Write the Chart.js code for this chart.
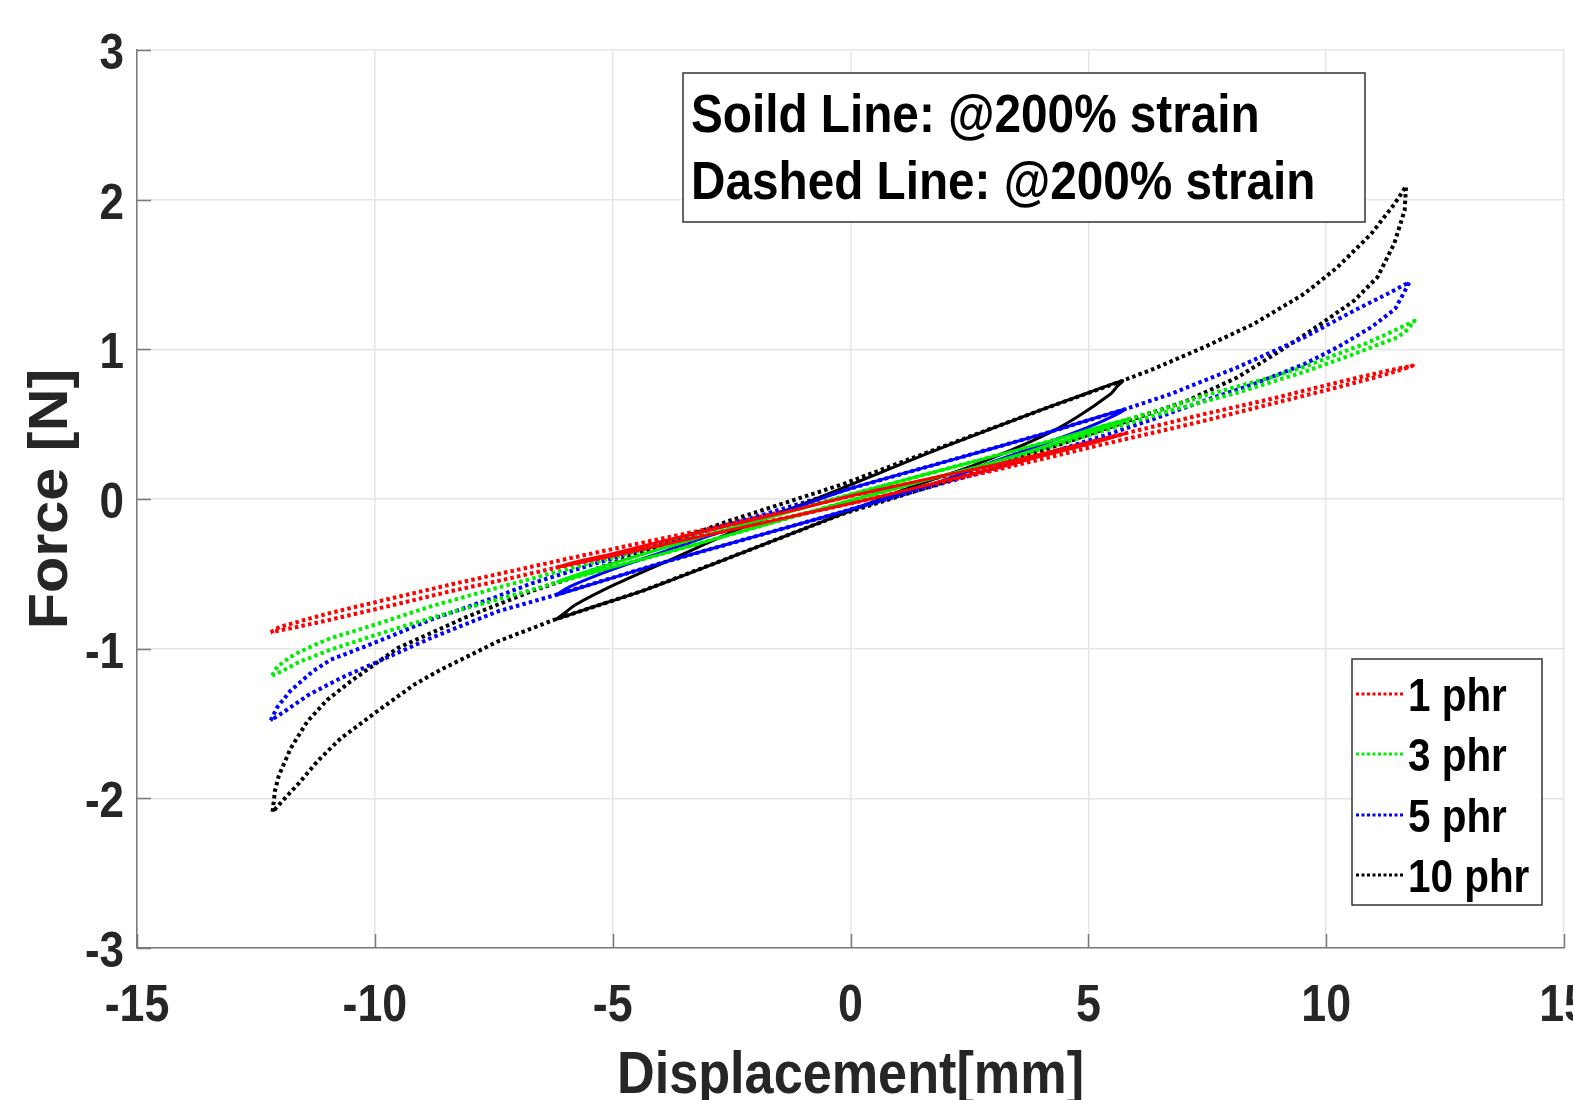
<!DOCTYPE html>
<html>
<head>
<meta charset="utf-8">
<script src="https://cdn.jsdelivr.net/npm/chart.js@4.4.1/dist/chart.umd.min.js"></script>
<style>
  html, body { margin: 0; padding: 0; background: #fff; }
  canvas { display: block; }
</style>
</head>
<body>
<canvas id="loopChart" width="1573" height="1100"></canvas>
<script>
// axis ticks
const xTicks = [-15, -10, -5, 0, 5, 10, 15];
const yTicks = [-3, -2, -1, 0, 1, 2, 3];

const seriesNames = ['1 phr', '3 phr', '5 phr', '10 phr'];
const seriesColors = ['#ff0000', '#00ee00', '#0000ff', '#000000'];

const noteLines = ['Soild Line: @200% strain', 'Dashed Line: @200% strain'];
const xTitle = 'Displacement[mm]';
const yTitle = 'Force [N]';

// 1 phr, large loop (dotted): upper branch left->right, then lower branch back
const disp1Dot = [-12.19, -12.0, -11.5, -10.93, -9.6, -8.4, -7.1, -5.86, -4.5, -3, -1.5, 0, 1.5, 3, 4.4, 5.8, 7.43, 8.83, 10.24, 11.29, 11.82,
  11.6, 11.0, 10.24, 8.83, 7.43, 6.4, 5.32, 4.2, 3, 1.5, 0, -1.5, -3, -4.6, -6.2, -7.3, -8.4, -9.7, -10.93, -11.7, -12.19];
const force1Dot = [-0.89, -0.855, -0.81, -0.761, -0.66, -0.571, -0.48, -0.393, -0.3, -0.2, -0.09, 0.02, 0.12, 0.22, 0.33, 0.44, 0.567, 0.668, 0.779, 0.857, 0.891,
  0.865, 0.81, 0.746, 0.634, 0.522, 0.445, 0.366, 0.28, 0.19, 0.08, -0.03, -0.135, -0.24, -0.35, -0.46, -0.54, -0.616, -0.715, -0.806, -0.86, -0.89];

// 1 phr, small loop (solid)
const disp1Solid = [-6.2, -5.9, -5.0, -4, -3, -2, -1, 0, 1, 2, 3, 4, 5, 5.8,
  5.5, 5, 4, 3, 2, 1, 0, -1, -2, -3, -4, -5, -6.2];
const force1Solid = [-0.46, -0.43, -0.365, -0.285, -0.21, -0.135, -0.06, 0.02, 0.09, 0.16, 0.225, 0.3, 0.375, 0.44,
  0.41, 0.365, 0.285, 0.2, 0.125, 0.045, -0.03, -0.1, -0.17, -0.24, -0.31, -0.38, -0.46];

// 3 phr
const disp3Dot = [-12.16, -12.05, -11.7, -11.3, -10.93, -10, -8.82, -7.5, -6.15, -4, -2, 0, 2, 4, 5.84, 6.6, 7.43, 8.83, 9.6, 10.24, 10.8, 11.29, 11.86,
  11.7, 11.5, 11.0, 10.59, 9.54, 8.13, 6.72, 5.32, 4, 2, 0, -2, -4, -6.15, -7.06, -8.82, -10, -10.93, -11.6, -11.95, -12.16];
const force3Dot = [-1.18, -1.12, -1.04, -0.98, -0.93, -0.84, -0.717, -0.6, -0.485, -0.31, -0.14, 0.03, 0.2, 0.37, 0.534, 0.605, 0.69, 0.812, 0.89, 0.969, 1.035, 1.104, 1.19,
  1.13, 1.08, 1.02, 0.969, 0.85, 0.71, 0.59, 0.455, 0.33, 0.16, -0.01, -0.19, -0.37, -0.555, -0.64, -0.795, -0.91, -1.007, -1.09, -1.15, -1.18];

const disp3Solid = [-6.18, -5.8, -5, -4, -3, -2, -1, 0, 2, 4, 5.84,
  5.5, 4.5, 3, 2, 1, 0, -2, -4, -6.18];
const force3Solid = [-0.555, -0.51, -0.43, -0.335, -0.24, -0.15, -0.06, 0.03, 0.2, 0.37, 0.534,
  0.49, 0.39, 0.245, 0.16, 0.075, -0.01, -0.19, -0.37, -0.555];

// 5 phr
const disp5Dot = [-12.19, -12.05, -11.77, -11.3, -10.93, -10, -8.82, -7.5, -6.71, -5.86, -4, -2, 0, 2, 4, 5.77, 6.72, 8.13, 9.54, 10.59, 11.29, 11.75,
  11.62, 11.45, 10.95, 10.24, 9.54, 8.48, 7.43, 6.37, 5.32, 4, 2, 0, -2, -4, -6.29, -7.41, -8.82, -10.72, -11.4, -11.9, -12.19];
const force5Dot = [-1.48, -1.39, -1.28, -1.15, -1.074, -0.96, -0.806, -0.66, -0.565, -0.48, -0.3, -0.12, 0.07, 0.25, 0.43, 0.6, 0.7, 0.879, 1.08, 1.259, 1.371, 1.449,
  1.37, 1.27, 1.148, 1.014, 0.902, 0.768, 0.656, 0.534, 0.422, 0.29, 0.11, -0.07, -0.25, -0.43, -0.65, -0.75, -0.929, -1.197, -1.31, -1.42, -1.48];

const disp5Solid = [-6.21, -5.9, -5, -4, -3, -2, -1, 0, 2, 4, 5.77,
  5.5, 5, 4, 3, 2, 1, 0, -2, -4, -6.21];
const force5Solid = [-0.645, -0.585, -0.47, -0.36, -0.25, -0.15, -0.04, 0.07, 0.25, 0.43, 0.6,
  0.55, 0.48, 0.36, 0.25, 0.13, 0.03, -0.07, -0.25, -0.43, -0.645];

// 10 phr
const disp10Dot = [-12.15, -12.1, -12.02, -11.77, -11.42, -11.0, -10.51, -9.52, -8.12, -6.71, -5.86, -4.2, -2.56, -0.17, 1.94, 4.05, 5.72, 6.37, 7.43, 8.48, 9.54, 10.24, 10.95, 11.44, 11.68,
  11.65, 11.43, 11.08, 10.59, 9.89, 9.04, 8.13, 7.07, 6.0, 4.0, 2.5, -0.17, -2.28, -4.39, -6.22, -7.41, -8.61, -9.17, -10, -10.72, -11.2, -11.6, -11.95, -12.15];
const force10Dot = [-2.09, -1.95, -1.85, -1.666, -1.487, -1.342, -1.219, -0.996, -0.795, -0.616, -0.527, -0.335, -0.147, 0.098, 0.35, 0.6, 0.79, 0.869, 1.014, 1.17, 1.371, 1.549, 1.773, 1.973, 2.09,
  1.929, 1.706, 1.483, 1.326, 1.17, 0.991, 0.812, 0.656, 0.54, 0.32, 0.166, -0.1, -0.36, -0.616, -0.806, -0.951, -1.14, -1.24, -1.43, -1.6, -1.75, -1.9, -2.02, -2.09];

const disp10Solid = [-6.2, -6.0, -5.8, -4.95, -3.69, -2.28, -0.87, 0.5, 1.94, 4.05, 5.0, 5.72,
  5.6, 5.46, 4.75, 4.05, 2.64, 1.24, -0.17, -2.28, -4.39, -5.5, -6.2];
const force10Solid = [-0.806, -0.76, -0.71, -0.571, -0.393, -0.192, -0.017, 0.16, 0.345, 0.6, 0.71, 0.79,
  0.75, 0.7, 0.545, 0.422, 0.232, 0.076, -0.1, -0.36, -0.616, -0.73, -0.806];

const FONT = "'Liberation Sans', Arial, sans-serif";
const TEXT_COLOR = '#262626';
const AXIS_COLOR = '#7a7a7a';

function toPoints(xs, ys) {
  return xs.map((x, i) => ({ x: x, y: ys[i] }));
}

const dottedSets = [
  [disp1Dot, force1Dot], [disp3Dot, force3Dot], [disp5Dot, force5Dot], [disp10Dot, force10Dot],
];
const solidSets = [
  [disp1Solid, force1Solid], [disp3Solid, force3Solid], [disp5Solid, force5Solid], [disp10Solid, force10Solid],
];

const datasets = [];
dottedSets.forEach((s, i) => {
  datasets.push({
    label: seriesNames[i],
    data: toPoints(s[0], s[1]),
    borderColor: seriesColors[i],
    borderWidth: 4,
    borderDash: [3.5, 3.2],
    showLine: true,
    pointRadius: 0,
    fill: false,
    tension: 0,
    order: 2,
  });
});
solidSets.forEach((s, i) => {
  datasets.push({
    label: '',
    data: toPoints(s[0], s[1]),
    borderColor: seriesColors[i],
    borderWidth: 3,
    showLine: true,
    pointRadius: 0,
    fill: false,
    tension: 0.25,
    order: 1,
  });
});

// draw a horizontally squeezed bold text (the figure's text is narrow)
function squeezedText(ctx, text, x, y, size, align, sx, rot) {
  ctx.save();
  ctx.translate(x, y);
  if (rot) ctx.rotate(rot);
  ctx.scale(sx, 1);
  ctx.font = 'bold ' + size + 'px ' + FONT;
  ctx.textAlign = align;
  ctx.textBaseline = 'alphabetic';
  ctx.fillText(text, 0, 0);
  ctx.restore();
}

const decorPlugin = {
  id: 'decor',
  afterDraw(chart) {
    const ctx = chart.ctx;
    const xs = chart.scales.x;
    const ys = chart.scales.y;
    const area = chart.chartArea;

    // inward ticks
    ctx.save();
    ctx.strokeStyle = AXIS_COLOR;
    ctx.lineWidth = 1.5;
    ctx.beginPath();
    xTicks.forEach(v => {
      const px = Math.round(xs.getPixelForValue(v)) + 0.5;
      ctx.moveTo(px, area.bottom);
      ctx.lineTo(px, area.bottom - 14);
    });
    yTicks.forEach(v => {
      const py = Math.round(ys.getPixelForValue(v)) + 0.5;
      ctx.moveTo(area.left, py);
      ctx.lineTo(area.left + 14, py);
    });
    ctx.stroke();
    ctx.restore();

    // tick labels
    ctx.fillStyle = TEXT_COLOR;
    xTicks.forEach(v => {
      squeezedText(ctx, String(v), xs.getPixelForValue(v), 1021, 52, 'center', 0.86);
    });
    yTicks.forEach(v => {
      squeezedText(ctx, String(v), 124, ys.getPixelForValue(v) + 19, 50, 'right', 0.88);
    });

    // axis titles
    squeezedText(ctx, xTitle, xs.getPixelForValue(0), 1093, 60, 'center', 0.87);
    squeezedText(ctx, yTitle, 67, ys.getPixelForValue(0), 56, 'center', 1.06, -Math.PI / 2);

    // note box
    ctx.save();
    ctx.fillStyle = '#ffffff';
    ctx.fillRect(683, 73, 682, 149);
    ctx.strokeStyle = '#333333';
    ctx.lineWidth = 1.5;
    ctx.strokeRect(683, 73, 682, 149);
    ctx.restore();
    ctx.fillStyle = '#000000';
    squeezedText(ctx, noteLines[0], 691, 132, 53, 'left', 0.9);
    squeezedText(ctx, noteLines[1], 691, 199, 53, 'left', 0.9);

    // legend box
    ctx.save();
    ctx.fillStyle = '#ffffff';
    ctx.fillRect(1352, 659, 190, 246);
    ctx.strokeStyle = '#333333';
    ctx.lineWidth = 1.5;
    ctx.strokeRect(1352, 659, 190, 246);
    const rows = [694, 754, 815, 875];
    chart.data.datasets.forEach((ds, i) => {
      if (!ds.label) return;
      ctx.save();
      ctx.strokeStyle = ds.borderColor;
      ctx.lineWidth = 3;
      ctx.setLineDash([3, 2.5]);
      ctx.beginPath();
      ctx.moveTo(1356, rows[i]);
      ctx.lineTo(1405, rows[i]);
      ctx.stroke();
      ctx.restore();
      ctx.fillStyle = '#000000';
      squeezedText(ctx, ds.label, 1408, rows[i] + 17, 47, 'left', 0.86);
    });
    ctx.restore();
  },
};

const chart = new Chart(document.getElementById('loopChart').getContext('2d'), {
  type: 'scatter',
  data: { datasets: datasets },
  options: {
    responsive: false,
    animation: false,
    devicePixelRatio: 1,
    layout: { padding: { left: 137, top: 50, right: 9, bottom: 152 } },
    plugins: { legend: { display: false }, tooltip: { enabled: false } },
    elements: { line: { borderCapStyle: 'butt', borderJoinStyle: 'round' } },
    scales: {
      x: {
        type: 'linear',
        min: -15,
        max: 15,
        ticks: { stepSize: 5, display: false },
        grid: { color: '#e6e6e6', lineWidth: 1.5, drawTicks: false },
        border: { display: true, color: AXIS_COLOR, width: 1.5 },
      },
      y: {
        type: 'linear',
        min: -3,
        max: 3,
        ticks: { stepSize: 1, display: false },
        grid: { color: '#e6e6e6', lineWidth: 1.5, drawTicks: false },
        border: { display: true, color: AXIS_COLOR, width: 1.5 },
      },
    },
  },
  plugins: [decorPlugin],
});
</script>
</body>
</html>
